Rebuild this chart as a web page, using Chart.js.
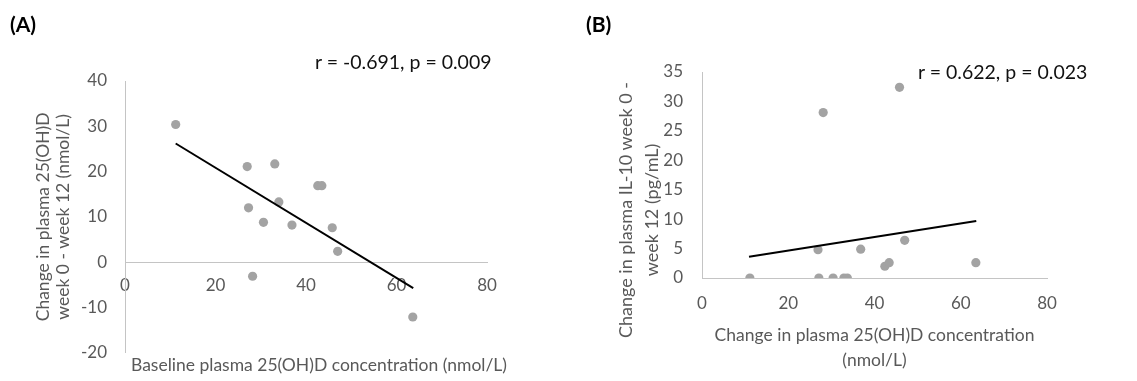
<!DOCTYPE html>
<html><head><meta charset="utf-8">
<script src="https://cdn.jsdelivr.net/npm/chart.js@4.4.1/dist/chart.umd.min.js"></script>
<style>
html,body{margin:0;padding:0;background:#fff;}
body{width:1137px;height:381px;position:relative;overflow:hidden;font-family:Lato,"Open Sans",sans-serif;}
.box{position:absolute;top:0;}
.lab{position:absolute;font-weight:bold;font-size:21px;line-height:24px;color:#000;}
.ann{position:absolute;font-size:19.5px;line-height:22px;color:#111;white-space:nowrap;}
.ttl{position:absolute;font-size:17.5px;color:#595959;white-space:nowrap;text-align:center;}
</style></head>
<body>
<div class="box" style="left:0;width:560px;height:381px"><canvas id="cA" width="560" height="381"></canvas></div>
<div class="box" style="left:570px;width:567px;height:381px"><canvas id="cB" width="567" height="381"></canvas></div>
<div class="lab" style="left:10px;top:12px">(A)</div>
<div class="lab" style="left:586px;top:12px">(B)</div>
<div class="ann" style="left:315px;top:51px">r = -0.691, p = 0.009</div>
<div class="ann" style="left:918px;top:61px">r = 0.622, p = 0.023</div>
<div class="ttl" style="left:69px;top:355px;width:500px;line-height:20px">Baseline plasma 25(OH)D concentration (nmol/L)</div>
<div class="ttl" style="left:488px;top:184px;width:300px;height:52px;line-height:26px;font-size:18px;transform:rotate(-90deg)">Change in plasma IL-10 week 0 -<br>week 12 (pg/mL)</div>
<script>
// ---- data ----
const xTicks = [0, 20, 40, 60, 80];
const yTicksA = [-20, -10, 0, 10, 20, 30, 40];
const yTicksB = [0, 5, 10, 15, 20, 25, 30, 35];

const ptsAx = [11.2, 27.0, 27.3, 28.2, 30.6, 33.1, 34.0, 36.9, 42.6, 43.5, 45.8, 47.0, 63.6];
const ptsAy = [30.4, 21.1, 12.0, -3.1, 8.8, 21.7, 13.3, 8.2, 16.9, 16.9, 7.6, 2.4, -12.1];
const fitAx = [11.2, 63.7];
const fitAy = [26.2, -5.7];

const ptsBx = [11.1, 26.9, 27.1, 28.1, 30.4, 32.9, 33.7, 36.8, 42.4, 43.4, 45.8, 47.0, 63.5];
const ptsBy = [0, 4.8, 0, 28.1, 0, 0, 0, 4.9, 2.0, 2.6, 32.4, 6.4, 2.6];
const fitBx = [10.9, 63.6];
const fitBy = [3.6, 9.7];

const yTitleA = ['Change in plasma 25(OH)D', 'week 0 - week 12 (nmol/L)'];
const xTitleB = ['Change in plasma 25(OH)D concentration', '(nmol/L)'];

// ---- helpers ----
const toXY = (xs, ys) => xs.map((x, i) => ({x: x, y: ys[i]}));
const setTicks = arr => s => { s.ticks = arr.map(v => ({value: v})); };
Chart.defaults.font.family = 'Lato';
const TICK = {color: '#595959', font: {size: 17}};
const AXIS = '#c4c4c4';

function pointsDs(data) {
  return {data: data, pointRadius: 4.6, pointBackgroundColor: '#a3a3a3', pointBorderColor: '#a3a3a3', pointBorderWidth: 0, showLine: false, order: 2};
}
function fitDs(data) {
  return {data: data, showLine: true, borderColor: '#000', borderWidth: 2, pointRadius: 0, order: 1};
}

new Chart(document.getElementById('cA'), {
  type: 'scatter',
  data: {datasets: [pointsDs(toXY(ptsAx, ptsAy)), fitDs(toXY(fitAx, fitAy))]},
  options: {
    responsive: false, animation: false,
    layout: {padding: {left: 0, right: 73, top: 81, bottom: 0}},
    plugins: {legend: {display: false}, tooltip: {enabled: false}},
    scales: {
      x: {type: 'linear', position: {y: 0}, min: 0, max: 80,
          afterBuildTicks: setTicks(xTicks), afterFit: s => { s.height = 33; },
          grid: {display: false, drawTicks: false},
          border: {display: true, color: AXIS, width: 1},
          ticks: Object.assign({padding: 13, maxRotation: 0}, TICK)},
      y: {type: 'linear', position: 'left', min: -20, max: 40,
          afterBuildTicks: setTicks(yTicksA), afterFit: s => { s.width = 125; },
          grid: {display: false, drawTicks: false},
          border: {display: true, color: AXIS, width: 1},
          ticks: Object.assign({padding: 18}, TICK),
          title: {display: true, text: yTitleA, color: '#595959', font: {size: 17.5, lineHeight: 1.15}, padding: {top: 33, bottom: 0}}}
    }
  }
});

new Chart(document.getElementById('cB'), {
  type: 'scatter',
  data: {datasets: [pointsDs(toXY(ptsBx, ptsBy)), fitDs(toXY(fitBx, fitBy))]},
  options: {
    responsive: false, animation: false,
    layout: {padding: {left: 0, right: 90, top: 72, bottom: 0}},
    plugins: {legend: {display: false}, tooltip: {enabled: false}},
    scales: {
      x: {type: 'linear', position: 'bottom', min: 0, max: 80,
          afterBuildTicks: setTicks(xTicks), afterFit: s => { s.height = 103; },
          grid: {display: false, drawTicks: false},
          border: {display: true, color: AXIS, width: 1},
          ticks: Object.assign({padding: 15, maxRotation: 0}, TICK),
          title: {display: true, text: xTitleB, color: '#595959', font: {size: 17.5, lineHeight: 1.43}, padding: {top: 0, bottom: 8}}},
      y: {type: 'linear', position: 'left', min: 0, max: 35,
          afterBuildTicks: setTicks(yTicksB), afterFit: s => { s.width = 132; },
          grid: {display: false, drawTicks: false},
          border: {display: true, color: AXIS, width: 1},
          ticks: Object.assign({padding: 19}, TICK)}
    }
  }
});
</script>
</body></html>
